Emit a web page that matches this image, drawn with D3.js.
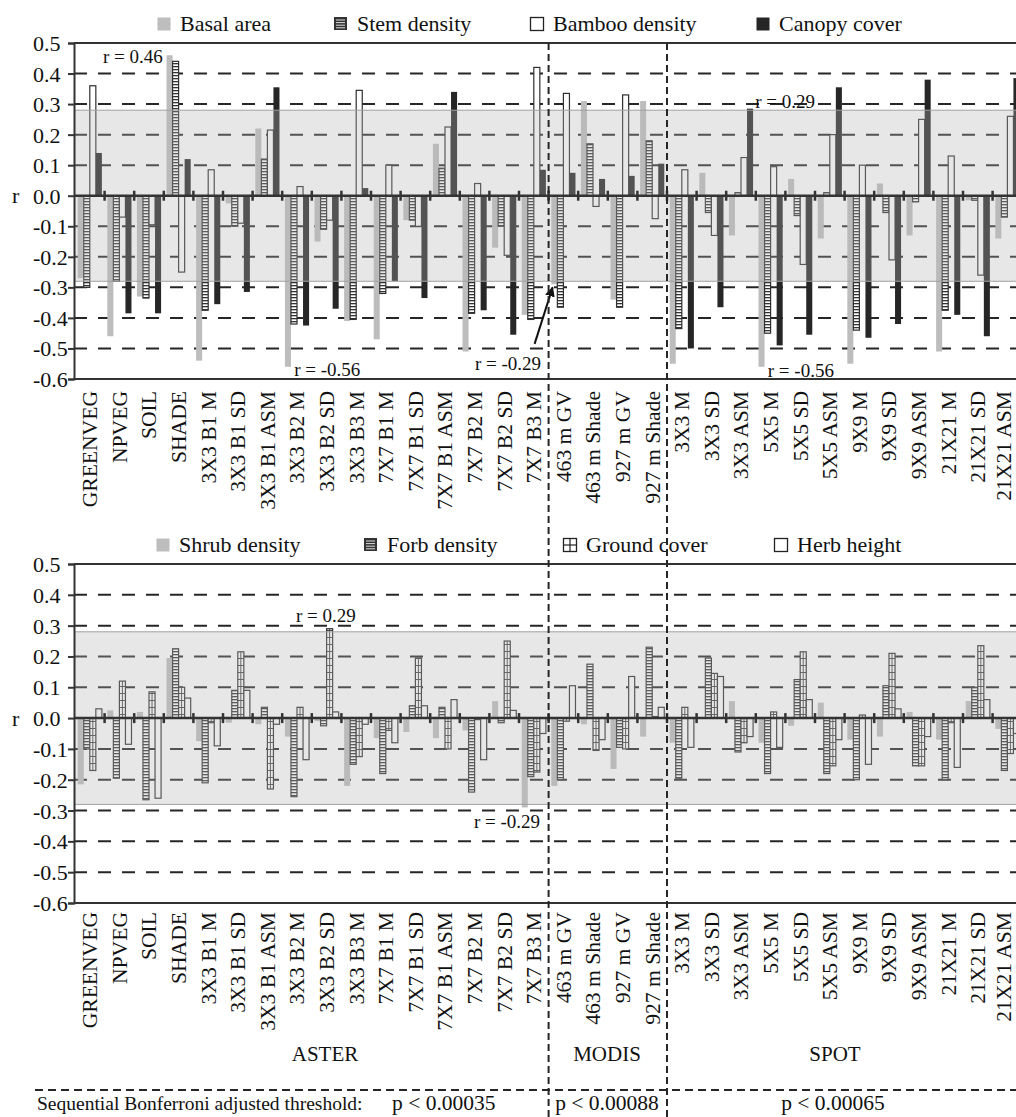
<!DOCTYPE html>
<html>
<head>
<meta charset="utf-8">
<script src="https://cdn.jsdelivr.net/npm/d3@7"></script>
<style>
  body { margin: 0; background: #fff; }
  svg { display: block; font-family: "Liberation Serif", "Times New Roman", serif; }
</style>
</head>
<body>
<div id="chart"></div>
<script>
// ---- data ----
const categories = ["GREENVEG", "NPVEG", "SOIL", "SHADE", "3X3 B1 M", "3X3 B1 SD", "3X3 B1 ASM",
  "3X3 B2 M", "3X3 B2 SD", "3X3 B3 M", "7X7 B1 M", "7X7 B1 SD", "7X7 B1 ASM", "7X7 B2 M",
  "7X7 B2 SD", "7X7 B3 M", "463 m GV", "463 m Shade", "927 m GV", "927 m Shade",
  "3X3 M", "3X3 SD", "3X3 ASM", "5X5 M", "5X5 SD", "5X5 ASM", "9X9 M", "9X9 SD", "9X9 ASM",
  "21X21 M", "21X21 SD", "21X21 ASM"]

const sensors = ["ASTER", "MODIS", "SPOT"]
const sensorSizes = [16, 4, 12]
const thresholdTitle = "Sequential Bonferroni adjusted threshold:"
const thresholds = ["p < 0.00035", "p < 0.00088", "p < 0.00065"]
const yTicks = [0.5, 0.4, 0.3, 0.2, 0.1, 0.0, -0.1, -0.2, -0.3, -0.4, -0.5, -0.6]
const gridValues = [0.4, 0.3, 0.2, 0.1, -0.1, -0.2, -0.3, -0.4, -0.5]
const bandLimit = 0.28

// upper chart: tree variables
const treeSeries = ["Basal area", "Stem density", "Bamboo density", "Canopy cover"]
const basalArea = [-0.27, -0.46, -0.33, 0.46, -0.54, -0.025, 0.22, -0.56, -0.15, -0.41, -0.47, -0.08,
  0.17, -0.51, -0.17, -0.39, -0.29, 0.31, -0.34, 0.31, -0.55, 0.075, -0.13, -0.56, 0.055, -0.14,
  -0.55, 0.04, -0.13, -0.51, -0.015, -0.14]
const stemDensity = [-0.30, -0.28, -0.335, 0.44, -0.375, -0.10, 0.12, -0.42, -0.11, -0.405, -0.32, -0.08,
  0.09, -0.385, -0.10, -0.405, -0.365, 0.17, -0.365, 0.18, -0.435, -0.055, 0.01, -0.45, -0.065, 0.01,
  -0.44, -0.055, -0.02, -0.375, -0.015, -0.07]
const bambooDensity = [0.36, -0.07, -0.095, -0.25, 0.085, -0.09, 0.215, 0.03, -0.08, 0.345, 0.10, -0.10,
  0.225, 0.04, -0.195, 0.42, 0.335, -0.035, 0.33, -0.075, 0.085, -0.13, 0.125, 0.095, -0.225, 0.20,
  0.10, -0.21, 0.25, 0.13, -0.26, 0.26]
const canopyCover = [0.14, -0.385, -0.385, 0.12, -0.355, -0.315, 0.355, -0.425, -0.37, 0.025, -0.28, -0.335,
  0.34, -0.375, -0.455, 0.085, 0.075, 0.055, 0.065, 0.105, -0.50, -0.365, 0.285, -0.49, -0.455, 0.355,
  -0.465, -0.42, 0.38, -0.39, -0.46, 0.385]

// lower chart: understorey variables
const herbSeries = ["Shrub density", "Forb density", "Ground cover", "Herb height"]
const shrubDensity = [-0.215, 0.025, 0.02, 0.195, -0.075, -0.015, -0.02, -0.06, -0.01, -0.22, -0.065, -0.045,
  -0.065, -0.04, 0.055, -0.29, -0.22, -0.02, -0.165, -0.06, -0.08, 0.0, 0.055, -0.08, -0.025, 0.05,
  -0.07, -0.06, 0.02, -0.07, 0.055, -0.035]
const forbDensity = [-0.10, -0.195, -0.265, 0.225, -0.21, 0.09, 0.035, -0.255, -0.025, -0.15, -0.18, 0.04,
  0.035, -0.24, -0.015, -0.19, -0.20, 0.175, -0.095, 0.23, -0.195, 0.195, -0.11, -0.18, 0.125, -0.18,
  -0.20, 0.105, -0.155, -0.20, 0.10, -0.17]
const groundCover = [-0.17, 0.12, 0.085, 0.10, -0.015, 0.215, -0.23, 0.035, 0.29, -0.125, -0.04, 0.195,
  -0.10, -0.005, 0.25, -0.175, -0.01, -0.105, -0.10, 0.005, 0.035, 0.145, -0.08, 0.02, 0.215, -0.155,
  0.01, 0.21, -0.155, -0.015, 0.235, -0.115]
const herbHeight = [0.03, -0.085, -0.26, 0.065, -0.09, 0.09, -0.02, -0.135, 0.02, -0.02, -0.08, 0.04,
  0.06, -0.135, 0.025, -0.05, 0.105, -0.07, 0.135, 0.035, -0.095, 0.135, -0.06, -0.095, 0.06, -0.07,
  -0.15, 0.03, -0.06, -0.16, 0.06, -0.05]

// ---- layout ----
const width = 1016
const height = 1117
const axisX = 74
const ink = "#262626"

const svg = d3.select("#chart").append("svg")
  .attr("width", width)
  .attr("height", height)

const defs = svg.append("defs")
const stripes = defs.append("pattern").attr("id", "stripes")
  .attr("patternUnits", "userSpaceOnUse").attr("width", 4).attr("height", 3)
stripes.append("rect").attr("width", 4).attr("height", 3).attr("fill", "#fff")
stripes.append("rect").attr("width", 4).attr("height", 1.3).attr("fill", "#333")

const grid = defs.append("pattern").attr("id", "grid")
  .attr("patternUnits", "userSpaceOnUse").attr("width", 4).attr("height", 7)
grid.append("rect").attr("width", 4).attr("height", 7).attr("fill", "#fff")
grid.append("rect").attr("width", 4).attr("height", 1).attr("fill", "#444")

defs.append("marker").attr("id", "arrow")
  .attr("viewBox", "0 0 10 10").attr("refX", 9).attr("refY", 5)
  .attr("markerWidth", 5).attr("markerHeight", 5).attr("orient", "auto")
  .append("path").attr("d", "M0,0L10,5L0,10z").attr("fill", "#111")

const x = d3.scaleBand()
  .domain(categories)
  .range([75, 75 + categories.length * 29.6])
  .paddingInner(0)

const inner = d3.scaleBand()
  .domain([0, 1, 2, 3])
  .range([0, x.bandwidth()])
  .paddingOuter(0.45)

const styles = {
  light: { fill: "#bdbdbd", stroke: "none" },
  stripes: { fill: "url(#stripes)", stroke: "#2e2e2e" },
  white: { fill: "#fff", stroke: "#2e2e2e" },
  dark: { fill: ink, stroke: "none" },
  grid: { fill: "url(#grid)", stroke: "#2e2e2e" }
}

const fmt = d => (Math.abs(d) < 1e-9 ? 0 : d).toFixed(1)

function drawPanel(cfg) {
  const y = d3.scaleLinear().domain([-0.6, 0.5]).range(cfg.range)
  const g = svg.append("g")

  // dashed grid
  g.selectAll(".grid")
    .data(gridValues)
    .enter()
    .append("line")
    .attr("x1", axisX).attr("x2", width)
    .attr("y1", d => y(d)).attr("y2", d => y(d))
    .attr("stroke", ink).attr("stroke-width", 2)
    .attr("stroke-dasharray", "13,11")

  // bars
  cfg.series.forEach((s, i) => {
    const st = styles[s.style]
    const bars = g.append("g")
    bars.selectAll("rect")
      .data(s.values)
      .enter()
      .append("rect")
      .attr("x", (d, k) => x(categories[k]) + inner(i))
      .attr("width", inner.bandwidth())
      .attr("y", d => y(Math.max(0, d)))
      .attr("height", d => Math.abs(y(d) - y(0)))
      .attr("fill", st.fill)
      .attr("stroke", st.stroke)
      .attr("stroke-width", 1.2)
    if (s.style === "grid") {
      bars.selectAll("line")
        .data(s.values)
        .enter()
        .append("line")
        .attr("x1", (d, k) => x(categories[k]) + inner(i) + inner.bandwidth() / 2)
        .attr("x2", (d, k) => x(categories[k]) + inner(i) + inner.bandwidth() / 2)
        .attr("y1", d => y(0))
        .attr("y2", d => y(d))
        .attr("stroke", "#444").attr("stroke-width", 1)
    }
  })

  // non-significant band, drawn translucent over the bars
  g.append("rect")
    .attr("x", axisX)
    .attr("width", width - axisX)
    .attr("y", y(bandLimit))
    .attr("height", y(-bandLimit) - y(bandLimit))
    .attr("fill", "#b4b4b4")
    .attr("opacity", 0.32)
  g.selectAll(".bandEdge")
    .data([bandLimit, -bandLimit])
    .enter()
    .append("line")
    .attr("x1", axisX).attr("x2", width)
    .attr("y1", d => y(d)).attr("y2", d => y(d))
    .attr("stroke", "#a0a0a0").attr("stroke-width", 1)

  // zero line with category separators
  g.append("line")
    .attr("x1", axisX).attr("x2", width)
    .attr("y1", y(0)).attr("y2", y(0))
    .attr("stroke", "#333").attr("stroke-width", 2.5)
  g.selectAll(".sep")
    .data(categories)
    .enter()
    .append("line")
    .attr("x1", d => x(d) + x.bandwidth())
    .attr("x2", d => x(d) + x.bandwidth())
    .attr("y1", y(0) - 5).attr("y2", y(0) + 5)
    .attr("stroke", "#333").attr("stroke-width", 2.5)

  // frame lines
  g.selectAll(".frame")
    .data([0.5, -0.6])
    .enter()
    .append("line")
    .attr("x1", axisX).attr("x2", width)
    .attr("y1", d => y(d)).attr("y2", d => y(d))
    .attr("stroke", "#333").attr("stroke-width", 2)

  // y axis
  const yAxis = d3.axisLeft(y).tickValues(yTicks).tickSize(6).tickFormat(fmt)
  const ax = g.append("g")
    .attr("transform", `translate(${axisX},0)`)
    .call(yAxis)
  ax.select(".domain").attr("stroke", "#333").attr("stroke-width", 2)
  ax.selectAll(".tick line").attr("stroke", "#333").attr("stroke-width", 2)
  ax.selectAll(".tick text")
    .attr("text-anchor", "start")
    .attr("x", 33 - axisX)
    .attr("dy", "0.34em")
    .attr("font-size", 22)
    .attr("font-family", "Liberation Serif, Times New Roman, serif")
    .attr("fill", "#111")

  g.append("text")
    .attr("x", 12).attr("y", y(0)).attr("dy", "0.34em")
    .attr("font-size", 22).attr("fill", "#111")
    .text("r")

  // category labels
  g.selectAll(".cat")
    .data(categories)
    .enter()
    .append("text")
    .attr("transform", d => `translate(${Math.min(x(d) + x.bandwidth() / 2, width - 12)},${cfg.labelTop}) rotate(-90)`)
    .attr("text-anchor", "end")
    .attr("dy", "0.34em")
    .attr("font-size", 21.6)
    .attr("fill", "#111")
    .text(d => d)

  // legend
  cfg.series.forEach((s, i) => {
    const lx = cfg.legendX[i]
    const ly = cfg.legendY
    const st = styles[s.style]
    if (s.style === "stripes") {
      g.append("rect").attr("x", lx).attr("y", ly - 13).attr("width", 13).attr("height", 13)
        .attr("fill", "#333")
      g.selectAll(".lg" + i)
        .data(d3.range(4))
        .enter()
        .append("line")
        .attr("x1", lx + 2).attr("x2", lx + 11)
        .attr("y1", d => ly - 10 + d * 2.6).attr("y2", d => ly - 10 + d * 2.6)
        .attr("stroke", "#ddd").attr("stroke-width", 1)
    } else {
      g.append("rect").attr("x", lx + 0.5).attr("y", ly - 12.5).attr("width", 13).attr("height", 13)
        .attr("fill", s.style === "grid" ? "#fff" : st.fill)
        .attr("stroke", st.stroke === "none" ? "none" : "#222")
        .attr("stroke-width", 1.3)
      if (s.style === "grid") {
        g.append("line").attr("x1", lx + 7).attr("x2", lx + 7).attr("y1", ly - 12.5).attr("y2", ly + 0.5)
          .attr("stroke", "#222").attr("stroke-width", 1.2)
        g.append("line").attr("x1", lx + 0.5).attr("x2", lx + 13.5).attr("y1", ly - 6).attr("y2", ly - 6)
          .attr("stroke", "#222").attr("stroke-width", 1.2)
      }
    }
    g.append("text")
      .attr("x", lx + 23).attr("y", ly + 1)
      .attr("font-size", 22).attr("fill", "#111")
      .text(s.name)
  })

  // r annotations
  cfg.notes.forEach(n => {
    g.append("text")
      .attr("x", x(n.cat) + n.dx)
      .attr("y", y(n.value) + n.dy)
      .attr("text-anchor", n.anchor)
      .attr("font-size", 19)
      .attr("fill", "#111")
      .text(n.text)
  })

  return y
}

const yTop = drawPanel({
  range: [379, 43],
  labelTop: 391,
  legendX: [157, 334, 530, 756],
  legendY: 30,
  series: [
    { name: treeSeries[0], values: basalArea, style: "light" },
    { name: treeSeries[1], values: stemDensity, style: "stripes" },
    { name: treeSeries[2], values: bambooDensity, style: "white" },
    { name: treeSeries[3], values: canopyCover, style: "dark" }
  ],
  notes: [
    { text: "r = 0.46", cat: "SHADE", dx: -1, value: 0.46, dy: 8, anchor: "end" },
    { text: "r = -0.56", cat: "3X3 B2 M", dx: 12, value: -0.6, dy: -3, anchor: "start" },
    { text: "r = -0.29", cat: "7X7 B3 M", dx: 22, value: -0.57, dy: 0, anchor: "end" },
    { text: "r = 0.29", cat: "3X3 ASM", dx: 29, value: 0.29, dy: 1, anchor: "start" },
    { text: "r = -0.56", cat: "5X5 M", dx: 12, value: -0.6, dy: -2, anchor: "start" }
  ]
})

// arrow pointing at the 463 m GV basal area bar
svg.append("line")
  .attr("x1", x("463 m GV") - 14).attr("y1", yTop(-0.485))
  .attr("x2", x("463 m GV") + 4).attr("y2", yTop(-0.30))
  .attr("stroke", "#111").attr("stroke-width", 2)
  .attr("marker-end", "url(#arrow)")

drawPanel({
  range: [903, 564],
  labelTop: 912,
  legendX: [156, 364, 563, 774],
  legendY: 551,
  series: [
    { name: herbSeries[0], values: shrubDensity, style: "light" },
    { name: herbSeries[1], values: forbDensity, style: "stripes" },
    { name: herbSeries[2], values: groundCover, style: "grid" },
    { name: herbSeries[3], values: herbHeight, style: "white" }
  ],
  notes: [
    { text: "r = 0.29", cat: "3X3 B2 SD", dx: 14, value: 0.29, dy: -7, anchor: "middle" },
    { text: "r = -0.29", cat: "7X7 B3 M", dx: 21, value: -0.29, dy: 21, anchor: "end" }
  ]
})

// sensor dividers, names and thresholds
const bounds = d3.cumsum(sensorSizes)
const dividerX = [bounds[0], bounds[1]].map(k => x(categories[k]))

svg.selectAll(".divider")
  .data(dividerX)
  .enter()
  .append("line")
  .attr("x1", d => d).attr("x2", d => d)
  .attr("y1", 43).attr("y2", height)
  .attr("stroke", ink).attr("stroke-width", 2)
  .attr("stroke-dasharray", "7,4")

svg.append("line")
  .attr("x1", 35).attr("x2", width)
  .attr("y1", 1090).attr("y2", 1090)
  .attr("stroke", ink).attr("stroke-width", 2)
  .attr("stroke-dasharray", "8,5")

const sensorX = [325, 607, 835]
svg.selectAll(".sensor")
  .data(sensors)
  .enter()
  .append("text")
  .attr("x", (d, i) => sensorX[i])
  .attr("y", 1061)
  .attr("text-anchor", "middle")
  .attr("font-size", 21)
  .attr("fill", "#111")
  .text(d => d)

svg.append("text")
  .attr("x", 37).attr("y", 1110)
  .attr("font-size", 19.5)
  .attr("fill", "#111")
  .text(thresholdTitle)

const thresholdX = [392, 607, 833]
svg.selectAll(".threshold")
  .data(thresholds)
  .enter()
  .append("text")
  .attr("x", (d, i) => thresholdX[i])
  .attr("y", 1110)
  .attr("text-anchor", (d, i) => i === 0 ? "start" : "middle")
  .attr("font-size", 21.5)
  .attr("fill", "#111")
  .text(d => d)
</script>
</body>
</html>
